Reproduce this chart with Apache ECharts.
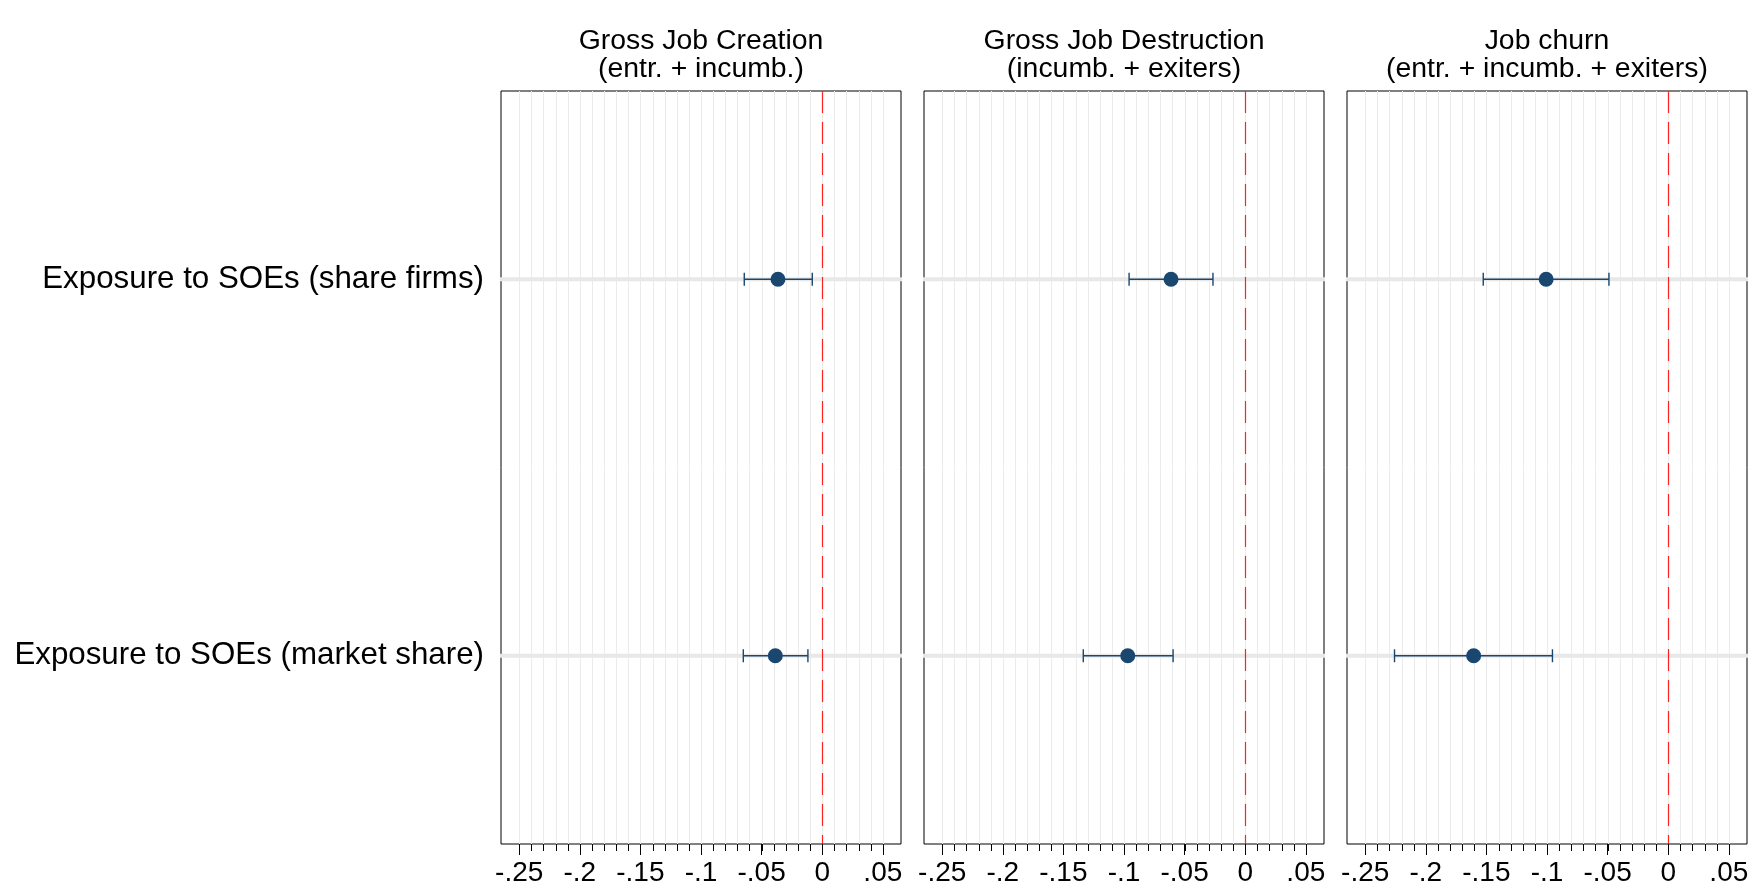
<!DOCTYPE html>
<html>
<head>
<meta charset="utf-8">
<script src="https://cdn.jsdelivr.net/npm/echarts@6/dist/echarts.min.js"></script>
<style>
  html, body { margin: 0; padding: 0; background: #ffffff; }
  #chart { width: 1754px; height: 894px; }
</style>
</head>
<body>
<div id="chart"></div>
<script>
// Coefficient plot: effect of exposure to SOEs on job flows (point estimate + CI)
const categories = ['Exposure to SOEs (share firms)', 'Exposure to SOEs (market share)'];
const panelTitles = [
  'Gross Job Creation\n(entr. + incumb.)',
  'Gross Job Destruction\n(incumb. + exiters)',
  'Job churn\n(entr. + incumb. + exiters)'
];
// one array per panel, one value per category
const estCreation = [-0.0365, -0.0387];
const lowCreation = [-0.0643, -0.0651];
const highCreation = [-0.0082, -0.0118];

const estDestruction = [-0.0612, -0.0969];
const lowDestruction = [-0.0958, -0.1336];
const highDestruction = [-0.0266, -0.0595];

const estChurn = [-0.1007, -0.1605];
const lowChurn = [-0.1526, -0.2258];
const highChurn = [-0.0489, -0.0955];

const majorTicks = [-0.25, -0.2, -0.15, -0.1, -0.05, 0, 0.05];
const tickLabels = ['-.25', '-.2', '-.15', '-.1', '-.05', '0', '.05'];
const minorTicks = [];
for (let k = -25; k <= 5; k++) minorTicks.push(k / 100);

const panels = [
  { est: estCreation, low: lowCreation, high: highCreation },
  { est: estDestruction, low: lowDestruction, high: highDestruction },
  { est: estChurn, low: lowChurn, high: highChurn }
];

const FONT = 'Liberation Sans, Arial, Helvetica, sans-serif';
const NAVY = '#1a476f';
const gridLefts = [501, 924, 1347];
const GRID_W = 400, GRID_TOP = 91, GRID_H = 753;

function tickLabel(v) {
  for (let i = 0; i < majorTicks.length; i++) {
    if (Math.abs(majorTicks[i] - v) < 1e-9) return tickLabels[i];
  }
  return '';
}

const grid = [], xAxis = [], yAxis = [], title = [], series = [];

panels.forEach((p, g) => {
  grid.push({
    left: gridLefts[g], top: GRID_TOP, width: GRID_W, height: GRID_H,
    show: true, borderColor: '#000', borderWidth: 1, backgroundColor: 'transparent'
  });
  title.push({
    text: panelTitles[g],
    left: gridLefts[g] + GRID_W / 2, top: 27, textAlign: 'center', padding: 0,
    textStyle: { fontFamily: FONT, fontSize: 28.4, fontWeight: 'normal', color: '#000', lineHeight: 28 }
  });
  xAxis.push({
    gridIndex: g, type: 'value', min: -0.265, max: 0.065,
    axisLine: { show: false },
    axisTick: { show: true, customValues: majorTicks, length: 11, lineStyle: { color: '#000', width: 1 } },
    axisLabel: {
      customValues: majorTicks, formatter: tickLabel, margin: 15,
      fontFamily: FONT, fontSize: 28, color: '#000'
    },
    splitLine: { show: false }
  });
  yAxis.push({
    gridIndex: g, type: 'category', data: categories, inverse: true,
    axisLine: { show: false },
    axisTick: { show: g === 0, alignWithLabel: true, length: 11, lineStyle: { color: '#000', width: 1 } },
    axisLabel: { show: g === 0, margin: 17, fontFamily: FONT, fontSize: 31.3, color: '#000' },
    splitLine: { show: false }
  });

  // vertical grid lines and minor ticks every .01
  series.push({
    type: 'custom', xAxisIndex: g, yAxisIndex: g, silent: true, z: 1,
    data: minorTicks.map(v => [v, 0]),
    encode: { x: 0, y: 1 },
    renderItem: function (params, api) {
      const cs = params.coordSys;
      const x = Math.round(api.coord([api.value(0), 0])[0]) + 0.5;
      const bottom = cs.y + cs.height;
      return {
        type: 'group',
        children: [
          { type: 'line', shape: { x1: x, y1: cs.y, x2: x, y2: bottom }, style: { stroke: '#ebebeb', lineWidth: 1 } },
          { type: 'line', shape: { x1: x, y1: bottom, x2: x, y2: bottom + 7 }, style: { stroke: '#000', lineWidth: 1 } }
        ]
      };
    }
  });

  // light horizontal band through each coefficient row, plus the zero reference line
  series.push({
    type: 'custom', xAxisIndex: g, yAxisIndex: g, silent: true, z: 2,
    data: categories.map((c, i) => [0, i]),
    encode: { x: 0, y: 1 },
    renderItem: function (params, api) {
      const cs = params.coordSys;
      const y = api.coord([0, api.value(1)])[1];
      return {
        type: 'line',
        shape: { x1: cs.x - 1, y1: y, x2: cs.x + cs.width + 1, y2: y },
        style: { stroke: '#e8e8e8', lineWidth: 4 }
      };
    },
    markLine: {
      silent: true, symbol: 'none', label: { show: false },
      lineStyle: { color: '#ff2020', width: 1.2, type: [22, 9] },
      data: [{ xAxis: 0 }]
    }
  });

  // confidence intervals with caps
  series.push({
    type: 'custom', xAxisIndex: g, yAxisIndex: g, silent: true, z: 3,
    data: categories.map((c, i) => [p.low[i], p.high[i], i]),
    encode: { x: [0, 1], y: 2 },
    renderItem: function (params, api) {
      const a = api.coord([api.value(0), api.value(2)]);
      const b = api.coord([api.value(1), api.value(2)]);
      const cap = 6.5;
      const st = { stroke: NAVY, lineWidth: 1.4 };
      return {
        type: 'group',
        children: [
          { type: 'line', shape: { x1: a[0], y1: a[1], x2: b[0], y2: b[1] }, style: st },
          { type: 'line', shape: { x1: a[0], y1: a[1] - cap, x2: a[0], y2: a[1] + cap }, style: st },
          { type: 'line', shape: { x1: b[0], y1: b[1] - cap, x2: b[0], y2: b[1] + cap }, style: st }
        ]
      };
    }
  });

  // point estimates
  series.push({
    type: 'scatter', xAxisIndex: g, yAxisIndex: g, z: 4,
    symbol: 'circle', symbolSize: 15,
    itemStyle: { color: NAVY, opacity: 1 },
    data: categories.map((c, i) => [p.est[i], i])
  });
});

const chart = echarts.init(document.getElementById('chart'), null, { renderer: 'canvas' });
chart.setOption({
  animation: false,
  backgroundColor: '#ffffff',
  textStyle: { fontFamily: FONT },
  title, grid, xAxis, yAxis, series
});
</script>
</body>
</html>
